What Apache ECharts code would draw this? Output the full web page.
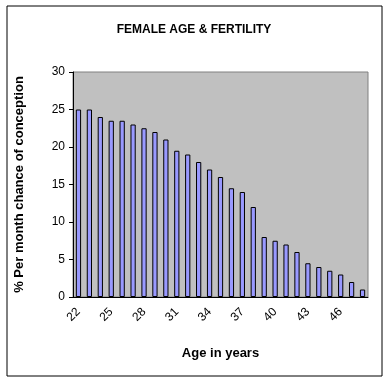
<!DOCTYPE html>
<html><head><meta charset="utf-8">
<script src="https://cdn.jsdelivr.net/npm/echarts@6/dist/echarts.min.js"></script>
<style>html,body{margin:0;padding:0;background:#fff}#c{width:388px;height:383px}</style>
</head><body><div id="c"></div>
<script>
const ages = ['22','23','24','25','26','27','28','29','30','31','32','33','34','35','36','37','38','39','40','41','42','43','44','45','46','47','48'];
const chance = [25,25,24,23.5,23.5,23,22.5,22,21,19.5,19,18,17,16,14.5,14,12,8,7.5,7,6,4.5,4,3.5,3,2,1];
const yTicks = [0,5,10,15,20,25,30];

const chart = echarts.init(document.getElementById('c'));
const font = 'Liberation Sans, Arial, sans-serif';
chart.setOption({
  animation: false,
  graphic: [{type:'rect', shape:{x:7,y:6,width:375,height:370}, style:{fill:'none', stroke:'#000', lineWidth:1}, z:-1}],
  title: {text:'FEMALE AGE & FERTILITY', left:'center', top:19,
    textStyle:{fontFamily:font, fontSize:12, fontWeight:'bold', color:'#000'}},
  grid: {left:73, right:20, top:72, bottom:86, show:true, backgroundColor:'#c0c0c0', borderWidth:1, borderColor:'#808080'},
  xAxis: {type:'category', data:ages, name:'Age in years', nameLocation:'middle', nameGap:50,
    nameTextStyle:{fontFamily:font, fontSize:13, fontWeight:'bold', color:'#000'},
    axisLine:{lineStyle:{color:'#000'}},
    axisTick:{interval:0, length:4, lineStyle:{color:'#000'}},
    axisLabel:{interval:2, rotate:45, fontFamily:font, fontSize:12, color:'#000', margin:13}},
  yAxis: {type:'value', min:0, max:30, interval:5, name:'% Per month chance of conception', nameLocation:'middle', nameGap:47,
    nameTextStyle:{fontFamily:font, fontSize:13, fontWeight:'bold', color:'#000'},
    axisLine:{show:true, lineStyle:{color:'#000'}},
    axisTick:{show:true, length:4, lineStyle:{color:'#000'}},
    splitLine:{show:false},
    axisLabel:{fontFamily:font, fontSize:12, color:'#000', margin:8, formatter: v => yTicks.includes(v) ? String(v) : ''}},
  series: [{type:'bar', data:chance, barWidth:'48%',
    itemStyle:{color:'#9999ff', borderColor:'#000', borderWidth:1}}]
});
</script></body></html>
